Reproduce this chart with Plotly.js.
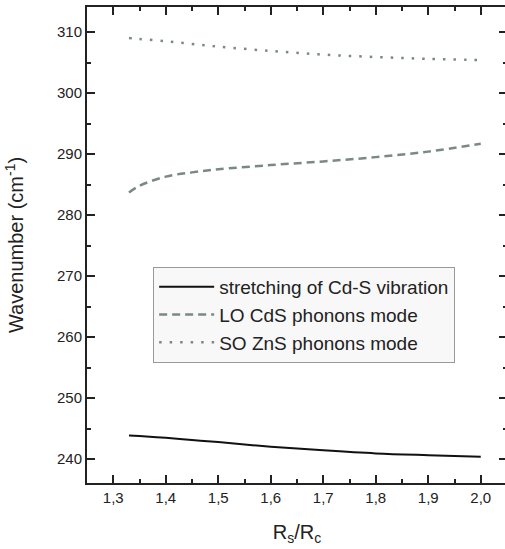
<!DOCTYPE html>
<html>
<head>
<meta charset="utf-8">
<script src="https://cdn.plot.ly/plotly-3.0.1.min.js"></script>
<style>html,body{margin:0;padding:0;overflow:hidden;background:#fff;}</style>
</head>
<body>
<div id="chart"></div>
<script>
// ratio Rs/Rc
const ratio = [1.33, 1.35, 1.4, 1.45, 1.5, 1.6, 1.7, 1.8, 1.9, 2.0];
// stretching of Cd-S vibration
const stretchCdS = [243.9, 243.8, 243.5, 243.15, 242.8, 242.05, 241.45, 240.95, 240.65, 240.4];
// LO CdS phonons mode
const loCdS = [283.7, 284.8, 286.3, 287.0, 287.5, 288.2, 288.8, 289.5, 290.4, 291.7];
// SO ZnS phonons mode
const soZnS = [309.0, 308.85, 308.5, 308.05, 307.6, 306.9, 306.3, 305.9, 305.6, 305.4];

const seriesNames = ["stretching of Cd-S vibration", "LO CdS phonons mode", "SO ZnS phonons mode"];
const xTickVals = [1.3, 1.4, 1.5, 1.6, 1.7, 1.8, 1.9, 2.0];
const xTickText = ["1,3", "1,4", "1,5", "1,6", "1,7", "1,8", "1,9", "2,0"];
const yTickVals = [240, 250, 260, 270, 280, 290, 300, 310];

const gray = "#7b8985";
const font = "Liberation Sans, Arial, Helvetica, sans-serif";

const traces = [
  {x: ratio, y: stretchCdS, name: seriesNames[0], mode: "lines", line: {color: "#111", width: 2, shape: "spline"}},
  {x: ratio, y: loCdS, name: seriesNames[1], mode: "lines", line: {color: gray, width: 2.5, dash: "8px,5px", shape: "spline"}},
  {x: ratio, y: soZnS, name: seriesNames[2], mode: "lines", line: {color: gray, width: 2.5, dash: "2.5px,8px", shape: "spline"}}
];

const axisCommon = {
  showgrid: false, zeroline: false,
  showline: true, linecolor: "#222", linewidth: 2,
  mirror: "ticks", ticks: "inside", ticklen: 8, tickwidth: 2, tickcolor: "#222",
  tickfont: {family: font, size: 15, color: "#222"}
};

const layout = {
  width: 507, height: 549,
  margin: {l: 87, r: 0, t: 7, b: 66},
  paper_bgcolor: "#fff", plot_bgcolor: "#fff",
  font: {family: font, color: "#222"},
  showlegend: true,
  legend: {
    x: 0.1575, y: 0.4538, xanchor: "left", yanchor: "top",
    bgcolor: "#f8f8f8", bordercolor: "#999", borderwidth: 1,
    itemwidth: 55,
    font: {family: font, size: 19, color: "#222"}
  },
  xaxis: Object.assign({}, axisCommon, {
    range: [1.25, 2.05],
    tickmode: "array", tickvals: xTickVals, ticktext: xTickText,
    minor: {dtick: 0.05, tick0: 1.25, ticks: "inside", ticklen: 4, tickwidth: 2, tickcolor: "#222"},
    title: {text: "R<sub>s</sub>/R<sub>c</sub>", font: {family: font, size: 20, color: "#222"}, standoff: 20}
  }),
  yaxis: Object.assign({}, axisCommon, {
    range: [236.1, 314.1],
    tickmode: "array", tickvals: yTickVals,
    minor: {dtick: 5, tick0: 235, ticks: "inside", ticklen: 4, tickwidth: 2, tickcolor: "#222"},
    title: {text: "Wavenumber (cm<sup>-1</sup>)", font: {family: font, size: 20, color: "#222"}, standoff: 28}
  })
};

Plotly.newPlot("chart", traces, layout, {displayModeBar: false, staticPlot: true});
</script>
</body>
</html>
